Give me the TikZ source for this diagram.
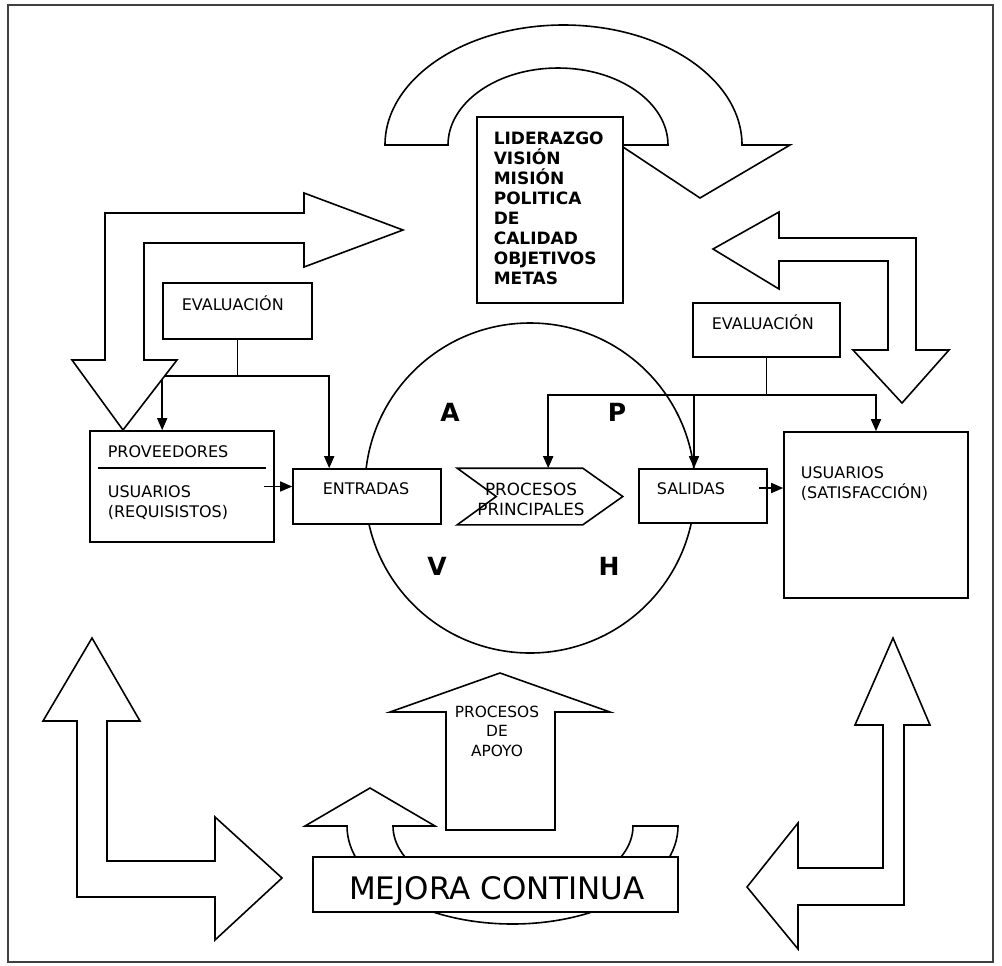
\documentclass[tikz,border=0pt]{standalone}
\usepackage{fontspec}
\setmainfont{DejaVu Sans}
\usetikzlibrary{arrows.meta}
\begin{document}
\begin{tikzpicture}[x=0.5pt,y=-0.5pt,
  line width=0.8pt, line join=miter,
  frame/.style={draw=black!75, line width=1.1pt},
  box/.style={draw, fill=white, rectangle, inner sep=0pt},
  ghost/.style={rectangle, inner sep=0pt},
  fat/.style={draw, fill=white},
  arr/.style={-{Triangle[length=6pt,width=5pt]}},
  lbl/.style={inner sep=0pt, font=\fontsize{8}{10}\selectfont},
  biglbl/.style={inner sep=0pt, font=\fontsize{8.5}{10}\selectfont\bfseries},
  letter/.style={inner sep=0pt, font=\fontsize{12.5}{14}\selectfont\bfseries}
]
\useasboundingbox (0,0) rectangle (1002,965);

% outer frame
\draw[frame] (8,5) rectangle (993,962);

% PDCA wheel
\node (pdca) [circle, draw, minimum size=165pt, inner sep=0pt] at (530,488) {};

% boxes
\node (evalL) [box, minimum width=74.5pt, minimum height=28pt] at (237.5,311) {};
\node (evalR) [box, minimum width=73.5pt, minimum height=27pt] at (766.5,330) {};
\node (prov)  [box, minimum width=92pt, minimum height=55.5pt] at (182,486.5) {};
\node (entr)  [box, minimum width=74pt, minimum height=27.5pt] at (367,496.5) {};
\node (sal)   [box, minimum width=64pt, minimum height=27pt] at (703,496) {};
\node (usu)   [box, minimum width=92pt, minimum height=83pt] at (876,515) {};

% main process chevron
\node (proc) [ghost, minimum width=62pt, minimum height=27.5pt] at (520,496.5) {};
\draw[fill=white] (proc.north west) -- (proc.north east) -- ([xshift=20pt]proc.east)
  -- (proc.south east) -- (proc.south west) -- ([xshift=19.5pt]proc.west) -- cycle;

% separator inside the supplier box
\draw ([xshift=4.5pt,yshift=-19pt]prov.north west) -- ([xshift=-4.5pt,yshift=-19pt]prov.north east);

% evaluation feedback (left)
\coordinate (jL) at (237.5,376);
\draw (evalL.south) -- (jL);
\draw[arr] (jL) -| ([xshift=36.5pt]prov.north west);
\draw[arr] (jL) -| ([xshift=18.5pt]entr.north west);

% evaluation feedback (right)
\coordinate (jR) at (766.5,395);
\coordinate (sIn) at ([xshift=-4.5pt]sal.north);
\draw (evalR.south) -- (jR);
\draw[arr] (jR) -| ([xshift=45.5pt]proc.north west);
\draw[arr] (jR) -| (usu.north);
\draw[arr] (sIn |- jR) -- (sIn);

% flow arrows
\coordinate (pOut) at ([xshift=-5.5pt]prov.east);
\draw[arr] (pOut) -- (pOut -| entr.west);
\coordinate (sOut) at ([xshift=-4.5pt,yshift=4pt]sal.east);
\draw[arr] (sOut) -- (sOut -| usu.west);

% block arrows, top
\draw[fat] (105,360) -- (105,213) -- (304,213) -- (304,193) -- (403,230) -- (304,267)
  -- (304,243) -- (144,243) -- (144,360) -- (177,360) -- (123,430) -- (72,360) -- cycle;
\draw[fat] (779,238) -- (916,238) -- (916,350) -- (949,350) -- (902,403) -- (853,350)
  -- (888,350) -- (888,261) -- (779,261) -- (779,289) -- (713,249) -- (779,212) -- cycle;
\draw[fat] (385,145) arc[start angle=180, end angle=360, x radius=178.5, y radius=120]
  -- (790,145) -- (700,198) -- (620,145) -- (668,145)
  arc[start angle=0, end angle=-180, x radius=110, y radius=77] -- cycle;

% leadership box
\node (lid) [box, minimum width=73pt, minimum height=93pt] at (550,210) {};
\node (lidT) [biglbl, anchor=north west, align=left] at (493,131.5)
  {LIDERAZGO\\VISIÓN\\MISIÓN\\POLITICA\\DE\\CALIDAD\\OBJETIVOS\\METAS};

% block arrows, bottom
\draw[fat] (370,788) -- (435,826) -- (393,826)
  arc[start angle=180, end angle=0, x radius=120, y radius=71] -- (678,826)
  arc[start angle=0, end angle=180, x radius=165.5, y radius=98] -- (305,826) -- cycle;
\draw[fat] (500,673) -- (610,712) -- (555,712) -- (555,830) -- (446,830) -- (446,712)
  -- (390,712) -- cycle;
\node (mejora) [box, minimum width=182.5pt, minimum height=27.5pt] at (495.5,884.5) {};
\draw[fat] (92,638) -- (140,721) -- (107,721) -- (107,861) -- (215,861) -- (215,817)
  -- (282,878) -- (215,940) -- (215,897) -- (77,897) -- (77,721) -- (43,721) -- cycle;
\draw[fat] (893,638) -- (930,725) -- (904,725) -- (904,905) -- (798,905) -- (798,949)
  -- (747,887) -- (798,823) -- (798,868) -- (883,868) -- (883,725) -- (855,725) -- cycle;

% labels
\node (evalLT) [lbl, anchor=base west] at (181,310) {EVALUACIÓN};
\node (evalRT) [lbl, anchor=base west] at (711,329) {EVALUACIÓN};
\node (provT)  [lbl, anchor=base west] at (107,457) {PROVEEDORES};
\node (usuRT)  [lbl, anchor=north west, align=left] at (107,485.3) {USUARIOS\\(REQUISISTOS)};
\node (entrT)  [lbl, anchor=base west] at (322,494) {ENTRADAS};
\node (salT)   [lbl, anchor=base west] at (656,494) {SALIDAS};
\node (usuST)  [lbl, anchor=north west, align=left] at (800,466.3) {USUARIOS\\(SATISFACCIÓN)};
\node (procT)  [inner sep=0pt, font=\fontsize{8.4}{10}\selectfont, anchor=north, align=center]
  at (531,481.8) {PROCESOS\\PRINCIPALES};
\node (apoyoT) [inner sep=0pt, font=\fontsize{7.7}{9.75}\selectfont, anchor=north, align=center]
  at (497,704.8) {PROCESOS\\DE\\APOYO};
\node (mejoraT) [inner sep=0pt, font=\fontsize{15.5}{18}\selectfont, anchor=base]
  at (497,899.5) {MEJORA CONTINUA};

% PHVA letters
\node (lA) [letter, anchor=base] at (450,421.5) {A};
\node (lP) [letter, anchor=base] at (617,421.5) {P};
\node (lV) [letter, anchor=base] at (437,575.5) {V};
\node (lH) [letter, anchor=base] at (609,575.5) {H};
\end{tikzpicture}
\end{document}
